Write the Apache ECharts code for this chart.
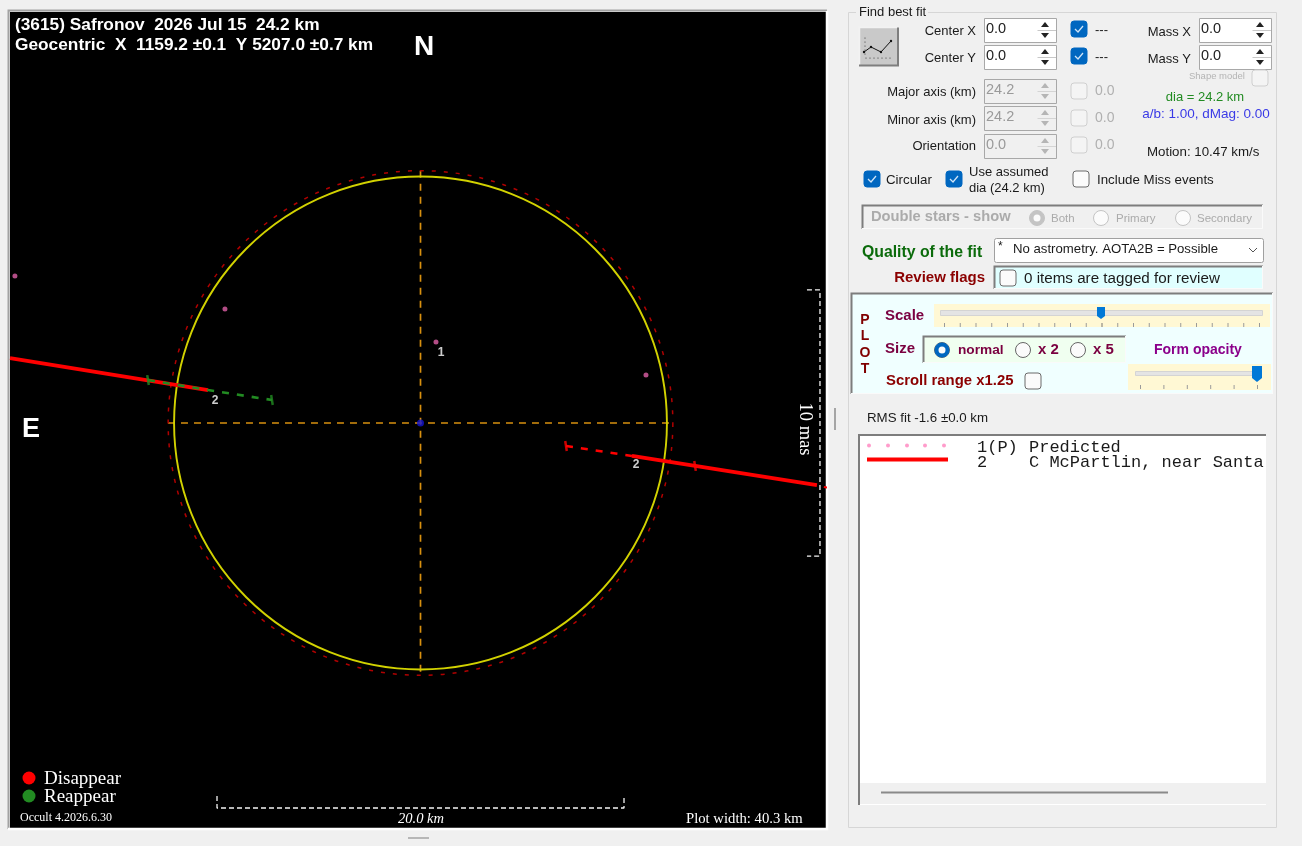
<!DOCTYPE html>
<html><head><meta charset="utf-8">
<style>html,body{margin:0;padding:0;background:#f0f0f0;overflow:hidden}#c{width:1302px;height:846px}</style>
<script src="https://cdn.jsdelivr.net/npm/echarts@6/dist/echarts.min.js"></script>
</head><body><div id="c"></div>
<script>
// ---- plot data, in km from the fitted centre (x right, y up) ----
const plotRangeX = [-20.172, 19.926];
const plotRangeY = [-19.902, 20.197];
const fittedCircle = [[0, 0, 12.11]];
const predictedCircle = [[0, 0, 12.4]];
const crossH = [[-12.41, 0], [12.4, 0]];
const crossV = [[0, 12.4], [0, -12.4]];
const centreDot = [[0, 0]];
const predictedPath = [[-19.93, 7.22], [-9.61, 5.60], [0.76, 3.98], [11.08, 2.36]];
const chordSolidLeft = [[-20.17, 3.19], [-10.44, 1.62]];
const chordGreenDash = [[-13.39, 2.11], [-10.44, 1.62], [-7.30, 1.13]];
const chordRedDash = [[7.15, -1.13], [10.39, -1.62]];
const chordSolidRight = [[10.39, -1.62], [19.48, -3.05]];
const chordStub = [[19.82, -3.14], [19.98, -3.17]];
const greenTicks = [[-13.39, 2.11], [-7.30, 1.13]];
const redTicks = [[7.15, -1.13], [13.49, -2.11]];
const chordLabels = [[1.01, 3.47, '1'], [-10.10, 1.10, '2'], [10.59, -2.07, '2']];
const kmBar = [[-10, -18.33], [-10, -18.92], [10, -18.92], [10, -18.33]];
const masBar = [[18.99, 6.54], [19.63, 6.54], [19.63, -6.54], [18.99, -6.54]];
const titleLines = ['(3615) Safronov  2026 Jul 15  24.2 km', 'Geocentric  X  1159.2 ±0.1  Y 5207.0 ±0.7 km'];
const legendNames = ['Disappear', 'Reappear'];
const listRows = [['1(P)', 'Predicted'], ['2', 'C McPartlin, near Santa']];

// ---- drawing helpers for the surrounding window furniture ----
const UI = '"Liberation Sans", Arial, sans-serif';
const SERIF = '"Liberation Serif", serif';
const g = [];
function T(x, y, s, o) { o = o || {};
  g.push({type:'text', z:o.z||20, silent:true, x:o.rot?x:0, y:o.rot?y:0, rotation:o.rot||0,
    style:{x:o.rot?0:x, y:o.rot?0:y, text:s, font:o.font||('13px '+UI), fill:o.fill||'#1a1a1a',
           align:o.align||'left', verticalAlign:'middle'}});
}
function R(x, y, w, h, fill, stroke, r, z) {
  g.push({type:'rect', z:z||10, silent:true, shape:{x:x, y:y, width:w, height:h, r:r||0},
    style:{fill:fill||'none', stroke:stroke||'none', lineWidth:1}});
}
function L(pts, stroke, w, z) {
  g.push({type:'polyline', z:z||15, silent:true, shape:{points:pts}, style:{fill:'none', stroke:stroke, lineWidth:w||1}});
}
function P(pts, fill) { g.push({type:'polygon', z:15, silent:true, shape:{points:pts}, style:{fill:fill}}); }
function C(x, y, r, fill, stroke, w) {
  g.push({type:'circle', z:15, silent:true, shape:{cx:x, cy:y, r:r}, style:{fill:fill||'none', stroke:stroke||'none', lineWidth:w||1}});
}
function check(x, y, on, dim) {
  R(x, y, 16, 16, on ? '#0067c0' : (dim ? '#f4f4f4' : '#fbfbfb'), on ? '#0067c0' : (dim ? '#cfcfcf' : '#6a6a6a'), 3);
  if (on) L([[x+4, y+8], [x+7, y+11], [x+12, y+5]], '#cfe4f7', 1.3);
}
function spin(x, y, val, dis) {
  R(x+.5, y+.5, 72, 24, dis ? '#f0f0f0' : '#fff', '#a8a8a8');
  T(x+2, y+11, val, {font:'14.5px '+UI, fill:dis ? '#9a9a9a' : '#222'});
  L([[x+53.5, y+12.5], [x+72, y+12.5]], dis ? '#d4d4d4' : '#c8c8c8');
  const c = dis ? '#b5b5b5' : '#222', a = x+61;
  P([[a-4, y+9], [a+4, y+9], [a, y+4]], c);
  P([[a-4, y+15], [a+4, y+15], [a, y+20]], c);
}
function radio(x, y, on, dis) {
  C(x, y, 7.5, '#fbfbfb', dis ? '#c4c4c4' : '#666');
  if (on) { C(x, y, 7.5, dis ? '#c4c4c4' : '#0067c0'); C(x, y, 3.5, '#fbfbfb'); }
}
function bevel(x, y, w, h, fill) {
  R(x, y, w, h, fill, null);
  L([[x+.5, y+h], [x+.5, y+.5], [x+w, y+.5]], '#7d7d7d', 2);
  L([[x+w-.5, y], [x+w-.5, y+h-.5], [x, y+h-.5]], '#fafafa', 1);
}

// plot frame
L([[8.5, 829], [8.5, 10.5], [827, 10.5]], '#a2a2a2', 2, 1);
L([[827, 11], [827, 829], [8, 829]], '#ffffff', 2.5, 1);
L([[408, 838], [429, 838]], '#a5a5a5', 1.5);
L([[835, 408], [835, 430]], '#8c8c8c', 1.5);

// plot annotations
const bold15 = 'bold 17.3px ' + UI;
T(15, 25, titleLines[0], {font:bold15, fill:'#fff'});
T(15, 45, titleLines[1], {font:bold15, fill:'#fff'});
T(414, 47, 'N', {font:'bold 28px '+UI, fill:'#fff'});
T(22, 430, 'E', {font:'bold 27px '+UI, fill:'#fff'});
C(29, 778, 6.5, '#ff0000'); C(29, 796, 6.5, '#228b22');
T(44, 779, legendNames[0], {font:'19px '+SERIF, fill:'#fff'});
T(44, 797, legendNames[1], {font:'19px '+SERIF, fill:'#fff'});
T(20, 818, 'Occult 4.2026.6.30', {font:'12px '+SERIF, fill:'#fff'});
T(421, 819, '20.0 km', {font:'italic 14.5px '+SERIF, fill:'#fff', align:'center'});
T(686, 819, 'Plot width: 40.3 km', {font:'14.7px '+SERIF, fill:'#fff'});
T(805, 429, '10 mas', {font:'18.5px '+SERIF, fill:'#fff', align:'center', rot:-Math.PI/2});

// right panel
R(848.5, 12.5, 428, 815, '#f0f0f0', '#d6d6d6', 0, 2);
R(856, 6, 72, 12, '#f0f0f0', null, 0, 3);
T(859, 12, 'Find best fit', {font:'13px '+UI});
// fit button
R(859, 27, 39, 39, '#c9c9c9', null);
L([[859.5, 66], [859.5, 27.5], [898, 27.5]], '#f2f2f2', 1.5);
L([[898, 27.5], [898, 65.5], [859, 65.5]], '#7e7e7e', 2);
L([[864, 52], [871, 47], [881, 52], [891, 41]], '#111', 1);
[[864,52],[871,47],[881,52],[891,41]].forEach(p => C(p[0], p[1], 1.2, '#111'));
for (let i = 0; i < 7; i++) C(866 + i*4, 58, .6, '#333');
for (let i = 0; i < 5; i++) C(865, 38 + i*4, .6, '#333');
// fit rows
const rhs = {align:'right', font:'13px '+UI};
T(976, 31, 'Center X', rhs); T(976, 58, 'Center Y', rhs);
T(1191, 32, 'Mass X', rhs); T(1191, 59, 'Mass Y', rhs);
spin(984, 18, '0.0'); spin(984, 45, '0.0'); spin(1199, 18, '0.0'); spin(1199, 45, '0.0');
check(1071, 21, true); check(1071, 48, true);
T(1095, 30, '---'); T(1095, 57, '---');
T(976, 92, 'Major axis (km)', rhs); T(976, 120, 'Minor axis (km)', rhs); T(976, 146, 'Orientation', rhs);
spin(984, 79, '24.2', true); spin(984, 106, '24.2', true); spin(984, 134, '0.0', true);
[83, 110, 137].forEach(y => { check(1071, y, false, true); T(1095, y+8, '0.0', {fill:'#b0b0b0', font:'14px '+UI}); });
T(1189, 76, 'Shape model', {font:'9.5px '+UI, fill:'#b4b4b4'});
check(1252, 70, false, true);
T(1205, 97, 'dia = 24.2 km', {align:'center', fill:'#228b22', font:'13px '+UI});
T(1206, 114, 'a/b: 1.00, dMag: 0.00', {align:'center', fill:'#3a3ae6', font:'13.5px '+UI});
T(1147, 152, 'Motion: 10.47 km/s', {font:'13.3px '+UI});
check(864, 171, true); T(886, 180, 'Circular', {font:'13.3px '+UI});
check(946, 171, true); T(969, 172, 'Use assumed', {font:'13px '+UI}); T(969, 188, 'dia (24.2 km)', {font:'13px '+UI});
check(1073, 171, false); T(1097, 180, 'Include Miss events', {font:'13.3px '+UI});
// double stars
bevel(862, 205, 401, 24, '#f0f0f0');
T(871, 217, 'Double stars - show', {font:'bold 14.7px '+UI, fill:'#ababab'});
radio(1037, 218, true, true); T(1051, 219, 'Both', {font:'11.5px '+UI, fill:'#ababab'});
radio(1101, 218, false, true); T(1116, 219, 'Primary', {font:'11.5px '+UI, fill:'#ababab'});
radio(1183, 218, false, true); T(1197, 219, 'Secondary', {font:'11.5px '+UI, fill:'#ababab'});
// quality
T(862, 253, 'Quality of the fit', {font:'bold 15.8px '+UI, fill:'#0b6b0b'});
R(994.5, 238.5, 269, 24, '#fff', '#a0a0a0', 2);
T(998, 247, '*', {font:'12px '+UI});
T(1013, 249, 'No astrometry. AOTA2B = Possible', {font:'13.2px '+UI});
L([[1249, 248], [1253, 252], [1257, 248]], '#555', 1);
T(985, 278, 'Review flags', {align:'right', font:'bold 15px '+UI, fill:'#8b0000'});
bevel(994, 266, 269, 23, '#e0ffff');
check(1000, 270, false);
T(1024, 279, '0 items are tagged for review', {font:'15.2px '+UI});
// plot panel
bevel(851, 293, 422, 101, '#f0ffff');
['P','L','O','T'].forEach((c, i) => T(865, 320 + i*16.4, c, {align:'center', font:'bold 14px '+UI, fill:'#800000'}));
const plum = '#7a0040';
T(885, 316, 'Scale', {font:'bold 15px '+UI, fill:plum});
R(934, 304, 336, 23, '#fff8d4', null);
R(940.5, 310.5, 322, 5, '#e4e4e4', '#d4d4d4');
for (let i = 0; i < 21; i++) L([[944.5 + i*15.75, 323], [944.5 + i*15.75, 327]], i === 10 ? '#777' : '#9a9a9a');
P([[1097, 307], [1105, 307], [1105, 316], [1101, 319], [1097, 316]], '#0078d7');
T(885, 349, 'Size', {font:'bold 15px '+UI, fill:plum});
bevel(923, 336, 203, 27, '#f0fff0');
radio(942, 350, true); T(958, 350, 'normal', {font:'bold 13.7px '+UI, fill:plum});
radio(1023, 350, false); T(1038, 350, 'x 2', {font:'bold 15px '+UI, fill:plum});
radio(1078, 350, false); T(1093, 350, 'x 5', {font:'bold 15px '+UI, fill:plum});
T(1154, 350, 'Form opacity', {font:'bold 14px '+UI, fill:'#8b008b'});
R(1128, 364, 143, 26, '#fff8d4', null);
R(1135.5, 371.5, 122, 4, '#e4e4e4', '#d4d4d4');
for (let i = 0; i < 6; i++) L([[1140.5 + i*23.4, 385], [1140.5 + i*23.4, 389]], '#9a9a9a');
P([[1252, 366], [1262, 366], [1262, 378], [1257, 382], [1252, 378]], '#0078d7');
T(886, 381, 'Scroll range x1.25', {font:'bold 14.9px '+UI, fill:'#8b0000'});
check(1025, 373, false);
T(867, 418, 'RMS fit -1.6 ±0.0 km', {font:'13.3px '+UI});
// list
R(859, 783, 407, 21, '#f0f0f0', null, 0, 9);
R(858, 434, 408, 371, '#fff', null, 0, 8);
L([[859, 805], [859, 435], [1266, 435]], '#7d7d7d', 2);
L([[881, 792.5], [1168, 792.5]], '#8a8a8a', 2);
[869, 888, 907, 925, 944].forEach(x => C(x, 445.5, 2, '#ff9ccb'));
L([[867, 459.5], [948, 459.5]], '#ff0000', 4);
const mono = '17px "Liberation Mono", monospace';
T(977, 447, listRows[0][0], {font:mono}); T(1029, 447, listRows[0][1], {font:mono});
T(977, 462, listRows[1][0], {font:mono}); T(1029, 462, listRows[1][1], {font:mono});

function circleItem(color, width, dash) {
  return function (params, api) {
    const c = api.coord([api.value(0), api.value(1)]);
    const r = api.size([api.value(2), 0])[0];
    return {type:'circle', shape:{cx:c[0], cy:c[1], r:r}, style:{fill:'none', stroke:color, lineWidth:width, lineDash:dash}};
  };
}
function line(data, color, width, dash, z) {
  return {type:'line', data:data, symbol:'none', z:z, silent:true, clip:true,
          lineStyle:{color:color, width:width, type:dash || 'solid'}};
}
function ticks(data, color) {
  return {type:'scatter', data:data, symbol:'rect', symbolSize:[2.5, 10], symbolRotate:9, z:8, silent:true,
          itemStyle:{color:color}};
}
const chart = echarts.init(document.getElementById('c'), null, {renderer:'canvas'});
chart.setOption({
  animation:false,
  backgroundColor:'#f0f0f0',
  grid:{left:10, top:12, width:816, height:816, show:true, backgroundColor:'#000', borderWidth:0},
  xAxis:{type:'value', min:plotRangeX[0], max:plotRangeX[1], show:false},
  yAxis:{type:'value', min:plotRangeY[0], max:plotRangeY[1], show:false},
  graphic:{elements:g},
  series:[
    line(crossH, '#d8900f', 1.7, [7, 6], 3),
    line(crossV, '#d8900f', 1.7, [7, 6], 3),
    {type:'custom', data:predictedCircle, z:4, silent:true, renderItem:circleItem('#b00000', 1.5, [4, 8])},
    {type:'custom', data:fittedCircle, z:4, silent:true, renderItem:circleItem('#d2d200', 1.9, null)},
    {type:'scatter', data:centreDot, symbolSize:7, z:5, silent:true, itemStyle:{color:'#1414d2'}},
    {type:'scatter', data:predictedPath, symbolSize:5, z:5, silent:true, itemStyle:{color:'#e060a8'}},
    line(chordSolidLeft, '#ff0000', 3.8, null, 6),
    line(chordGreenDash, '#228b22', 2.6, [7, 8], 7),
    line(chordRedDash, '#ff0000', 2.6, [7, 8], 6),
    line(chordSolidRight, '#ff0000', 3.8, null, 6),
    line(chordStub, '#ff0000', 2, null, 6),
    ticks(greenTicks, '#228b22'),
    ticks(redTicks, '#ff0000'),
    {type:'scatter', data:chordLabels, symbolSize:0, z:9, silent:true,
     label:{show:true, position:'inside', formatter:p => p.value[2], color:'#fff', fontWeight:'bold', fontSize:12, fontFamily:'Liberation Sans'}},
    line(kmBar, '#f4f4f4', 1.3, [5, 3], 6),
    line(masBar, '#f4f4f4', 1.3, [5, 3], 6)
  ]
});
</script></body></html>
